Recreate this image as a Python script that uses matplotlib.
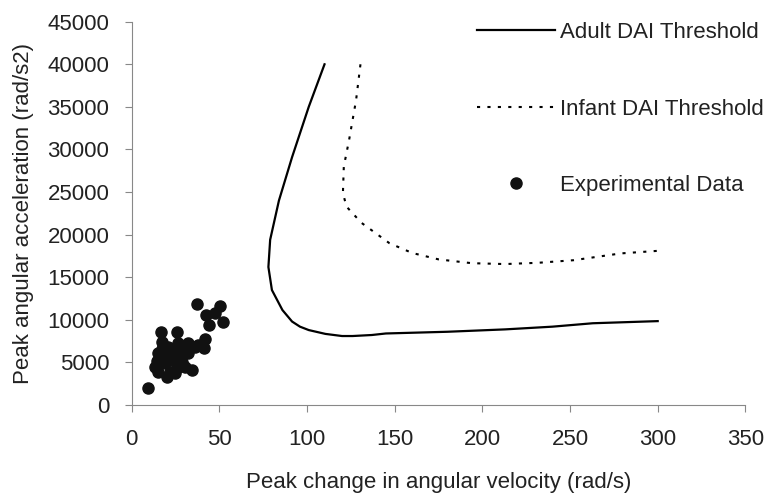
import matplotlib
matplotlib.use("Agg")
import matplotlib.pyplot as plt

plt.rcParams['font.family'] = ['Liberation Sans', 'DejaVu Sans']

# Adult DAI threshold curve (rad/s, rad/s2)
adult_vel = [110, 101, 91.5, 84, 79, 78, 80, 86, 91.5, 96, 101, 110.5, 120, 126, 137, 145, 180, 213, 240, 263, 300]
adult_acc = [40000, 35000, 29100, 24000, 19400, 16200, 13500, 11150, 9800, 9200, 8800, 8350, 8100, 8100, 8220, 8400, 8600, 8880, 9200, 9600, 9850]

# Infant DAI threshold curve
infant_vel = [130.5, 128, 124, 121, 120.5, 122.5, 131, 147, 160, 175, 194, 213, 232, 252, 279, 300]
infant_acc = [40000, 35800, 31100, 28000, 24900, 23300, 21400, 19000, 17850, 17100, 16650, 16550, 16700, 17000, 17800, 18100]

# Experimental data points
exp_vel = [9.3, 37.2, 50.5, 42.5, 47.7, 51.9, 44.2, 16.8, 25.7, 41.6, 41.0, 32.4, 36.3, 32.4,
           17.2, 15.3, 13.4, 15.3, 20.0, 25.7, 34.3, 22.9, 19.1, 28.6, 26.7, 21.0, 23.8, 30.5,
           18.0, 14.5, 27.5, 31.0, 38.0, 22.0, 17.5, 24.5, 29.0]
exp_acc = [1960, 11850, 11650, 10560, 10760, 9780, 9390, 8530, 8530, 7710, 6650, 7240, 6840, 6070,
           7430, 6070, 4500, 3910, 3320, 4310, 4110, 5280, 4890, 5080, 7240, 6840, 6260, 4500,
           5600, 5200, 6100, 6500, 7000, 3900, 6600, 3800, 5900]

fig = plt.figure(figsize=(7.72, 4.98), dpi=100)
ax = fig.add_axes([0.1705, 0.1867, 0.795, 0.7697])

ax.plot(adult_vel, adult_acc, color='black', lw=1.6, label='Adult DAI Threshold')
ax.plot(infant_vel, infant_acc, color='black', lw=1.5, linestyle=(0, (1.5, 3.5)),
        label='Infant DAI Threshold')
ax.plot(exp_vel, exp_acc, 'o', color='#111111', markersize=8, label='Experimental Data')

ax.set_xlim(0, 350)
ax.set_ylim(0, 45000)
ax.set_xticks(range(0, 351, 50))
ax.set_yticks(range(0, 45001, 5000))

for s in ['top', 'right']:
    ax.spines[s].set_visible(False)
for s in ['left', 'bottom']:
    ax.spines[s].set_color('#888888')
ax.tick_params(colors='#888888', labelcolor='#222222', labelsize=16, length=5, direction='out')
ax.tick_params(axis='y', pad=11)
ax.tick_params(axis='x', pad=12)

ax.set_xlabel('Peak change in angular velocity (rad/s)', fontsize=16, color='#222222', labelpad=16)
ax.set_ylabel('Peak angular acceleration (rad/s2)', fontsize=16, color='#222222', labelpad=10)

ax.legend(loc='upper left', bbox_to_anchor=(477 / 772, 1 - 22 / 498), bbox_transform=fig.transFigure,
          frameon=False, fontsize=16, handlelength=3.5, handletextpad=0.25, labelspacing=2.5,
          borderpad=0, borderaxespad=0, numpoints=1, labelcolor='#222222')

fig.savefig('out.png', dpi=100)
